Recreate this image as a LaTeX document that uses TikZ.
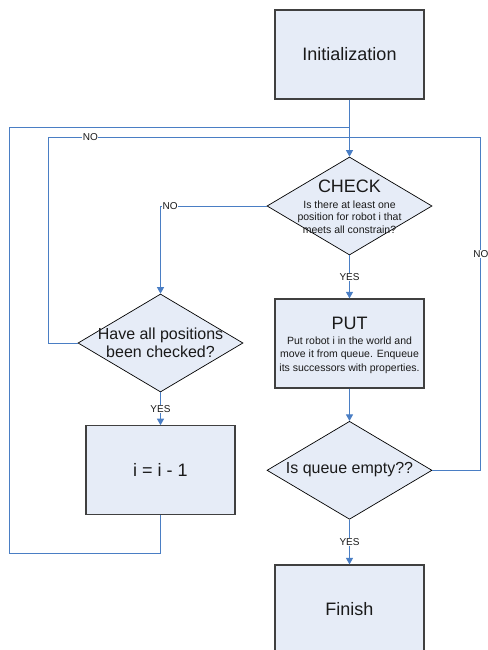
\documentclass[tikz,border=0pt]{standalone}
\usepackage{fontspec}
\setmainfont{Liberation Sans}
\usetikzlibrary{shapes.geometric,arrows.meta}
\definecolor{boxfill}{HTML}{E6ECF7}
\definecolor{boxline}{HTML}{404040}
\definecolor{conncol}{HTML}{4A7EC4}
\definecolor{txt}{HTML}{1A1A1A}
\tikzset{
  procbox/.style={draw=boxline, line width=1.2pt, fill=boxfill, minimum width=149pt, minimum height=89pt, inner sep=0pt, text=txt, font=\fontsize{18}{21}\selectfont},
  decbox/.style={diamond, draw=black, line width=0.7pt, fill=boxfill, minimum width=165pt, minimum height=98pt, inner sep=0pt},
  conn/.style={draw=conncol, line width=1pt},
  arr/.style={conn, -{Triangle[length=6.5pt,width=7pt]}},
  lbl/.style={fill=white, inner sep=0.6pt, text=txt, font=\fontsize{10}{12}\selectfont},
  bigtxt/.style={text=txt, font=\fontsize{18}{21}\selectfont, inner sep=0pt},
  midtxt/.style={text=txt, font=\fontsize{16}{18.4}\selectfont, align=center, inner sep=0pt},
  smalltxt/.style={text=txt, font=\fontsize{10.5}{12.5}\selectfont, align=center, inner sep=0pt},
}
\begin{document}
\begin{tikzpicture}[x=1pt,y=-1pt]
\useasboundingbox (0,0) rectangle (487,650);
% nodes
\node[procbox] (init) at (349.5,54.5) {Initialization};
\node[decbox] (check) at (349.5,206) {};
\node[bigtxt] (checkt) at (349.5,186) {CHECK};
\node[smalltxt] (checkb) at (349.5,217) {Is there at least one\\position for robot i that\\meets all constrain?};
\node[procbox] (put) at (349.5,343.5) {};
\node[bigtxt] (putt) at (349.5,323) {PUT};
\node[smalltxt, font=\fontsize{10.5}{13.4}\selectfont] (putb) at (349.5,355) {Put robot i in the world and\\move it from queue. Enqueue\\its successors with properties.};
\node[decbox] (queue) at (349.5,470.3) {};
\node[midtxt] (queuet) at (349.5,470) {Is queue empty??};
\node[procbox] (finish) at (349.5,609.5) {Finish};
\node[decbox] (ldia) at (160.5,343) {};
\node[midtxt] (ldiat) at (160.5,343) {Have all positions\\been checked?};
\node[procbox] (dec) at (160.5,470.3) {i = i - 1};
% junctions
\coordinate (j1) at (349.5,128);
\coordinate (j2) at (349.5,137.5);
% connectors
\draw[arr] (init.south) -- (check.north);
\draw[arr] (check.south) -- node[lbl]{YES} (put.north);
\draw[arr] (put.south) -- (queue.north);
\draw[arr] (queue.south) -- node[lbl]{YES} (finish.north);
\draw[arr] (check.west) -| node[lbl,pos=0.455]{NO} (ldia.north);
\draw[arr] (ldia.south) -- node[lbl]{YES} (dec.north);
\draw[conn] (ldia.west) -- ++(-29.5,0) |- node[lbl,pos=0.57]{NO} (j2);
\draw[conn] (queue.east) -- ++(48.5,0) |- node[lbl,pos=0.325]{NO} (j2);
\draw[conn] (dec.south) -- ++(0,38) -- ++(-151.5,0) |- (j1);
\end{tikzpicture}
\end{document}
